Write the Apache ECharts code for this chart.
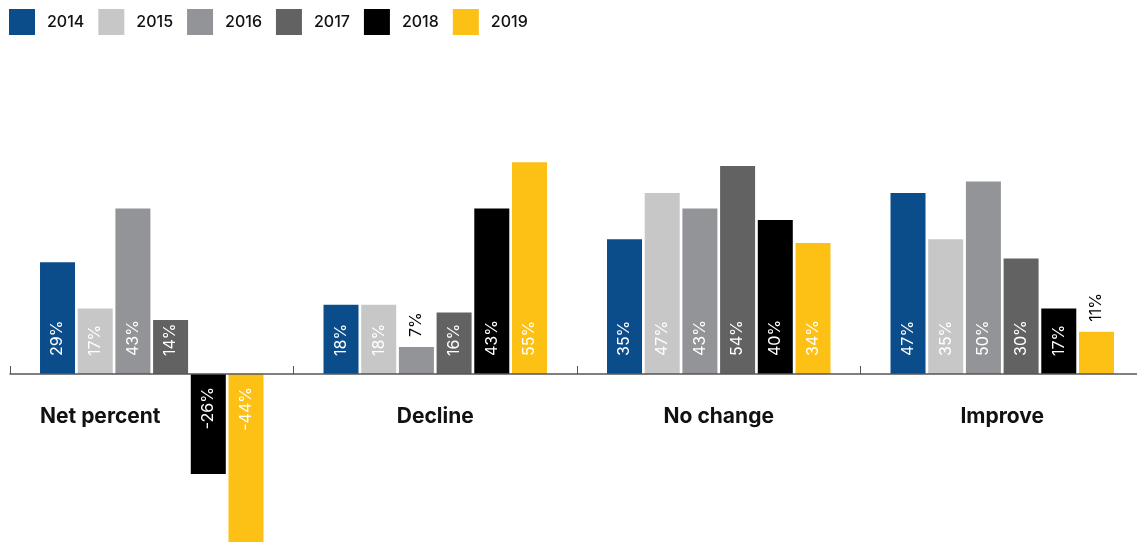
<!DOCTYPE html>
<html><head><meta charset="utf-8">
<script src="https://cdn.jsdelivr.net/npm/echarts@6/dist/echarts.min.js"></script>
<style>html,body{margin:0;padding:0;background:#fff}#c{width:1137px;height:542px}</style>
</head><body><div id="c"></div>
<script>
const categories = ['Net percent', 'Decline', 'No change', 'Improve'];
const years = ['2014', '2015', '2016', '2017', '2018', '2019'];
const s2014 = [29, 18, 35, 47];
const s2015 = [17, 18, 47, 35];
const s2016 = [43, 7, 43, 50];
const s2017 = [14, 16, 54, 30];
const s2018 = [-26, 43, 40, 17];
const s2019 = [-44, 55, 34, 11];
const seriesValues = [s2014, s2015, s2016, s2017, s2018, s2019];
const colors = ['#0b4d8b', '#c6c7c6', '#939497', '#626263', '#000000', '#fdc014'];

const FONT = 'Inter, Roboto, "Noto Sans", sans-serif';

function itemLabel(v) {
  if (v < 0) return { position: 'insideTop', distance: 13, align: 'right', verticalAlign: 'middle', color: '#fff' };
  if (v < 12) return { position: 'top', distance: 10, align: 'left', verticalAlign: 'middle', color: '#000' };
  return { position: 'insideBottom', distance: 18, align: 'left', verticalAlign: 'middle', color: '#fff' };
}

const series = years.map((y, i) => ({
  name: y,
  type: 'bar',
  barWidth: 35,
  barGap: '7.7%',
  clip: false,
  itemStyle: { color: colors[i] },
  label: { show: true, rotate: 90, fontSize: 16, fontFamily: FONT, formatter: '{c}%' },
  data: seriesValues[i].map(v => ({ value: v, label: itemLabel(v) }))
}));

const chart = echarts.init(document.getElementById('c'), null, { renderer: 'canvas' });
chart.setOption({
  animation: false,
  color: colors,
  legend: {
    left: 9, top: 9, padding: 0, itemWidth: 26, itemHeight: 26, itemGap: 14,
    icon: 'rect',
    textStyle: { fontSize: 16, fontWeight: 500, color: '#111', fontFamily: FONT, padding: [0, 0, 0, 7] },
    data: years
  },
  grid: { left: 10, width: 1134, top: 143, bottom: 168, containLabel: false, outerBoundsMode: 'none' },
  xAxis: {
    type: 'category',
    data: categories.map((c, i) => i === 0 ? { value: c, textStyle: { padding: [0, 103, 0, 0] } } : c),
    z: 5,
    axisLine: { onZero: false, lineStyle: { color: '#555', width: 1.5 } },
    axisTick: { show: true, inside: true, length: 8, lineStyle: { color: '#555' } },
    axisLabel: { margin: 32, fontSize: 21, fontWeight: 'bold', color: '#111', fontFamily: FONT }
  },
  yAxis: { type: 'value', min: 0, max: 60, show: false, splitLine: { show: false } },
  series: series
});
</script></body></html>
